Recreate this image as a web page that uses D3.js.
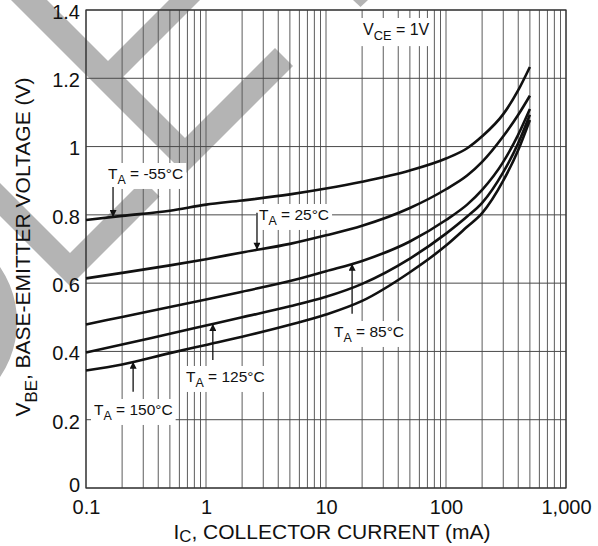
<!DOCTYPE html>
<html>
<head>
<meta charset="utf-8">
<script src="https://cdn.jsdelivr.net/npm/d3@7/dist/d3.min.js"></script>
<style>
    body { margin: 0; background: #fff; }
    svg { display: block; font-family: "Liberation Sans", Arial, Helvetica, sans-serif; }
</style>
</head>
<body>
<div id="chart"></div>
<script>
var currents = [0.1, 0.2, 0.5, 1, 2, 5, 10, 20, 50, 100, 150, 200, 300, 400, 500];

// V_BE (V) per ambient temperature
var vbeM55 = [0.785, 0.797, 0.812, 0.83, 0.842, 0.86, 0.877, 0.897, 0.93, 0.965, 0.995, 1.03, 1.095, 1.165, 1.233];
var vbe25  = [0.614, 0.63, 0.652, 0.67, 0.69, 0.715, 0.74, 0.768, 0.82, 0.875, 0.915, 0.955, 1.03, 1.093, 1.149];
var vbe85  = [0.479, 0.501, 0.53, 0.552, 0.575, 0.606, 0.635, 0.665, 0.722, 0.785, 0.83, 0.873, 0.955, 1.035, 1.11];
var vbe125 = [0.397, 0.42, 0.452, 0.476, 0.5, 0.532, 0.56, 0.598, 0.672, 0.745, 0.795, 0.835, 0.925, 1.01, 1.093];
var vbe150 = [0.344, 0.362, 0.395, 0.419, 0.443, 0.478, 0.508, 0.548, 0.632, 0.71, 0.765, 0.805, 0.9, 0.99, 1.078];

var temps = ['-55', '25', '85', '125', '150'];
var xTickValues = [0.1, 1, 10, 100, 1000];
var yTickValues = [0, 0.2, 0.4, 0.6, 0.8, 1, 1.2, 1.4];

var series = [vbeM55, vbe25, vbe85, vbe125, vbe150].map(function (v, i) {
    return { temp: temps[i], points: currents.map(function (c, j) { return [c, v[j]]; }) };
});

// label placement: text origin in px, arrow current, arrow length (negative = points down)
var notes = [
    { s: 0, tx: 108, ty: 179, at: 0.168, len: -30 },
    { s: 1, tx: 259, ty: 220, at: 2.66, len: -37 },
    { s: 2, tx: 334, ty: 337, at: 16.5, len: 50 },
    { s: 3, tx: 186, ty: 382, at: 1.14, len: 36 },
    { s: 4, tx: 94, ty: 415, at: 0.247, len: 30 }
];

var W = 598, H = 546;
var svg = d3.select('#chart').append('svg').attr('width', W).attr('height', H),
    margin = { top: 10, right: 32, bottom: 58, left: 86 },
    width = W - margin.left - margin.right,
    height = H - margin.top - margin.bottom;

svg.append('rect').attr('width', W).attr('height', H).attr('fill', '#fff');

// grey watermark sitting under the grid
var wm = svg.append('g').attr('fill', '#b4b4b4');
var poly = d3.line().curve(d3.curveLinearClosed);
[
    [[1, -10], [185, 174], [293, 66], [275, 48], [185, 138], [37, -10]],
    [[179, -10], [210, -10], [121, 79], [105, 64]],
    [[-10, 173], [70, 253], [143, 180], [159.5, 196.5], [70, 286], [-10, 206]],
    [[353, 0], [368, 0], [360.5, 7]]
].forEach(function (p) { wm.append('path').attr('d', poly(p)); });
wm.append('path')
    .attr('transform', 'translate(-80,322)')
    .attr('d', d3.arc()({ innerRadius: 80, outerRadius: 97, startAngle: 0, endAngle: Math.PI }));

var g = svg.append('g').attr('transform', 'translate(' + margin.left + ',' + margin.top + ')');

var x = d3.scaleLog().domain([0.1, 1000]).range([0, width]);
var y = d3.scaleLinear().domain([0, 1.4]).range([height, 0]);

// grid
g.append('g').selectAll('line')
    .data(x.ticks())
    .enter().append('line')
    .attr('x1', function (d) { return x(d); })
    .attr('x2', function (d) { return x(d); })
    .attr('y1', 0).attr('y2', height)
    .attr('stroke', '#5c5c5c').attr('stroke-width', 1);

g.append('g').selectAll('line')
    .data(yTickValues)
    .enter().append('line')
    .attr('y1', function (d) { return y(d); })
    .attr('y2', function (d) { return y(d); })
    .attr('x1', 0).attr('x2', width)
    .attr('stroke', '#4a4a4a').attr('stroke-width', 1);

g.append('rect').attr('width', width).attr('height', height)
    .attr('fill', 'none').attr('stroke', '#333').attr('stroke-width', 1.2);

// curves
var line = d3.line()
    .curve(d3.curveMonotoneX)
    .x(function (d) { return x(d[0]); })
    .y(function (d) { return y(d[1]); });

g.selectAll('.curve')
    .data(series)
    .enter().append('path')
    .attr('class', 'curve')
    .attr('d', function (d) { return line(d.points); })
    .attr('fill', 'none')
    .attr('stroke', '#111')
    .attr('stroke-width', 2.6);

function vbeAt(points, c) {
    for (var i = 1; i < points.length; i++) {
        if (c <= points[i][0]) {
            var a = points[i - 1], b = points[i];
            var t = (Math.log(c) - Math.log(a[0])) / (Math.log(b[0]) - Math.log(a[0]));
            return a[1] + t * (b[1] - a[1]);
        }
    }
    return points[points.length - 1][1];
}

function subText(sel, main, sub, rest, size, drop) {
    drop = drop || 0.32;
    var t = sel.append('text').attr('font-size', size).attr('fill', '#111');
    t.append('tspan').text(main);
    t.append('tspan').attr('font-size', size * 0.8).attr('dy', size * drop).text(sub);
    t.append('tspan').attr('dy', -size * drop).text(rest);
    return t;
}

function boxed(t, padX, padY) {
    var b = t.node().getBBox();
    d3.select(t.node().parentNode).insert('rect', function () { return t.node(); })
        .attr('x', b.x - padX).attr('y', b.y - padY)
        .attr('width', b.width + padX * 2).attr('height', b.height + padY * 2)
        .attr('fill', '#fff');
}

svg.append('defs').append('marker')
    .attr('id', 'head')
    .attr('viewBox', '0 0 10 10')
    .attr('refX', 10).attr('refY', 5)
    .attr('markerUnits', 'userSpaceOnUse')
    .attr('markerWidth', 10).attr('markerHeight', 7)
    .attr('orient', 'auto')
    .append('path').attr('d', 'M0,0L10,5L0,10z').attr('fill', '#111');

var labels = svg.append('g');
notes.forEach(function (n) {
    var t = subText(labels, 'T', 'A', ' = ' + series[n.s].temp + '\u00B0C', 15.5)
        .attr('x', n.tx).attr('y', n.ty);
    boxed(t, 3, 2);
    var ax = margin.left + x(n.at),
        tip = margin.top + y(vbeAt(series[n.s].points, n.at));
    labels.append('line')
        .attr('x1', ax).attr('x2', ax)
        .attr('y1', tip + n.len).attr('y2', tip)
        .attr('stroke', '#111').attr('stroke-width', 1.3)
        .attr('marker-end', 'url(#head)');
});

var vce = subText(svg, 'V', 'CE', ' = 1V', 16).attr('x', 363).attr('y', 35);
boxed(vce, 3, 3);

// axes
g.append('g')
    .attr('transform', 'translate(0,' + height + ')')
    .call(d3.axisBottom(x).tickValues(xTickValues).tickFormat(d3.format(',')).tickSize(0).tickPadding(12))
    .attr('font-size', 20).attr('font-family', null)
    .call(function (a) { a.select('.domain').remove(); a.selectAll('text').attr('fill', '#111'); });

g.append('g')
    .call(d3.axisLeft(y).tickValues(yTickValues).tickFormat(d3.format('~g')).tickSize(0).tickPadding(6))
    .attr('font-size', 20).attr('font-family', null)
    .call(function (a) {
        a.select('.domain').remove();
        a.selectAll('text').attr('fill', '#111')
            .attr('dy', function (d) { return d === 0 ? '0.15em' : '0.42em'; });
    });

subText(svg, 'I', 'C', ', COLLECTOR CURRENT (mA)', 21, 0.18)
    .attr('text-anchor', 'middle')
    .attr('x', 332).attr('y', 538.5);

subText(svg, 'V', 'BE', ', BASE-EMITTER VOLTAGE (V)', 21)
    .attr('text-anchor', 'middle')
    .attr('transform', 'translate(30,247) rotate(-90)');
</script>
</body>
</html>
